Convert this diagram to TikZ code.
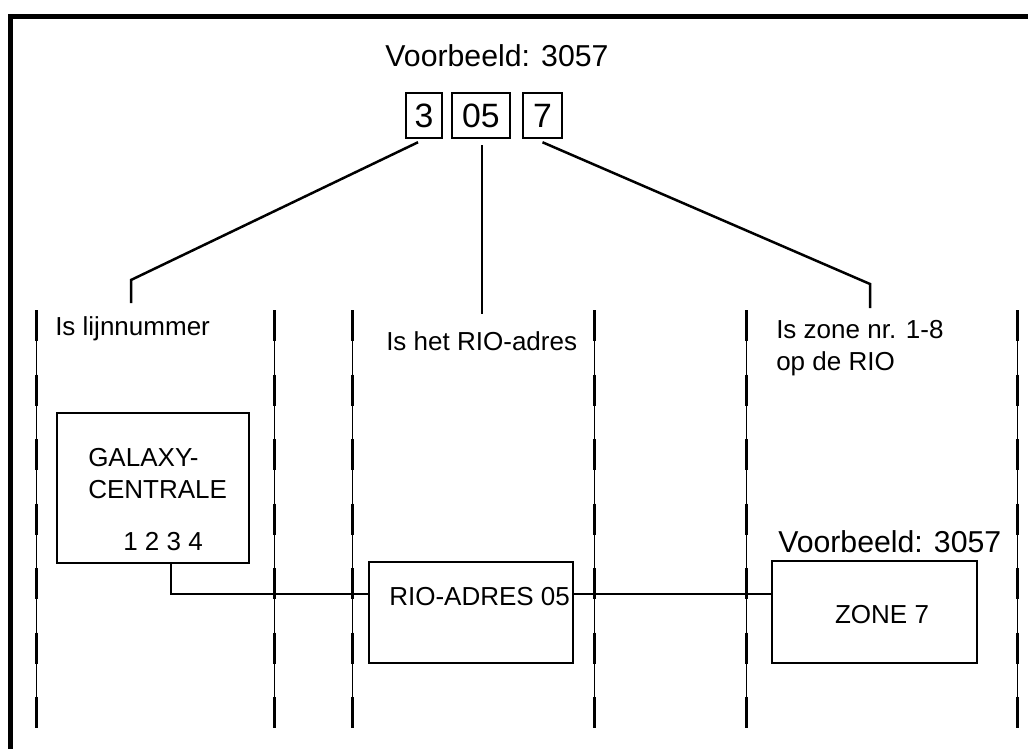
\documentclass[tikz,border=0pt]{standalone}
\usepackage{fontspec}
\setmainfont{Liberation Sans}
\usetikzlibrary{calc}
\newlength{\pxu}
\setlength{\pxu}{0.025cm}
\begin{document}
\begin{tikzpicture}[x=\pxu, y=-\pxu, line width=2.5\pxu,
    box/.style={draw, rectangle, inner sep=0pt},
    digit box/.style={box, minimum height=45\pxu, font=\fontsize{24}{28}\selectfont},
    label/.style={anchor=base west, inner sep=0pt, font=\fontsize{18.5}{22.5}\selectfont},
    heading/.style={inner sep=0pt, font=\fontsize{21.5}{25}\selectfont},
    wire/.style={line width=2.5\pxu},
    thinrule/.style={line width=1\pxu},
    dashrule/.style={line width=3\pxu, dash pattern=on 31\pxu off 33.5\pxu}]

                \useasboundingbox (0, 0) rectangle (1028, 749);
                \draw[line width=5\pxu] (10.5, 749) -- (10.5, 16.5) -- (1028, 16.5);

                \foreach \x in {36, 274, 352, 594, 746, 1017} {
                    \draw[thinrule] (\x, 310) -- (\x, 728);
                    \draw[dashrule] (\x, 310) -- (\x, 728);
                }

                \node[heading, anchor=base] at (497, 67) (title) {Voorbeeld: 3057};
                \node[digit box, minimum width=36\pxu] at (424, 115.5) (d3) {3};
                \node[digit box, minimum width=58\pxu] at (481, 115.5) (d05) {05};
                \node[digit box, minimum width=39\pxu] at (542.5, 115.5) (d7) {7};

                \node[label] at (54, 335) (line) {Is lijnnummer};
                \node[label] at (385, 350) (addr) {Is het RIO-adres};
                \node[label, align=left] at (775, 370) (zone) {Is zone nr. 1-8\\op de RIO};

                \coordinate (k3) at (131, 280);
                \coordinate (e3) at (131, 303);
                \coordinate (e05) at (482, 314);
                \coordinate (k7) at (870, 284);
                \coordinate (e7) at (870, 308);

                \draw[wire] ($(d3.south)+(-6, 3)$) -- (k3) -- (e3);
                \draw[wire] ($(d05.south)+(1, 6)$) -- (e05);
                \draw[wire] ($(d7.south)+(0, 3)$) -- (k7) -- (e7);

                \node[box, minimum width=192\pxu, minimum height=150\pxu] at (153, 488) (galaxy) {};
                \node[label, align=left] at (87, 498) (galaxytext) {GALAXY-\\CENTRALE};
                \node[label] at (122, 550) (pins) {1 2 3 4};

                \node[box, minimum width=204\pxu, minimum height=101\pxu] at (471, 612.5) (rio) {};
                \node[label] at (388, 605) (riotext) {RIO-ADRES 05};

                \node[box, minimum width=205\pxu, minimum height=102\pxu] at (874.5, 612) (zonebox) {};
                \node[label, anchor=base] at (882, 623) (zonetext) {ZONE 7};
                \node[heading, anchor=base west] at (777, 552) (example) {Voorbeeld: 3057};

                \coordinate (bus) at (0, 594);
                \draw[wire] (galaxy.south -| 171, 0) |- (rio.west |- bus);
                \draw[wire] (rio.east |- bus) -- (zonebox.west |- bus);
            \end{tikzpicture}
\end{document}
